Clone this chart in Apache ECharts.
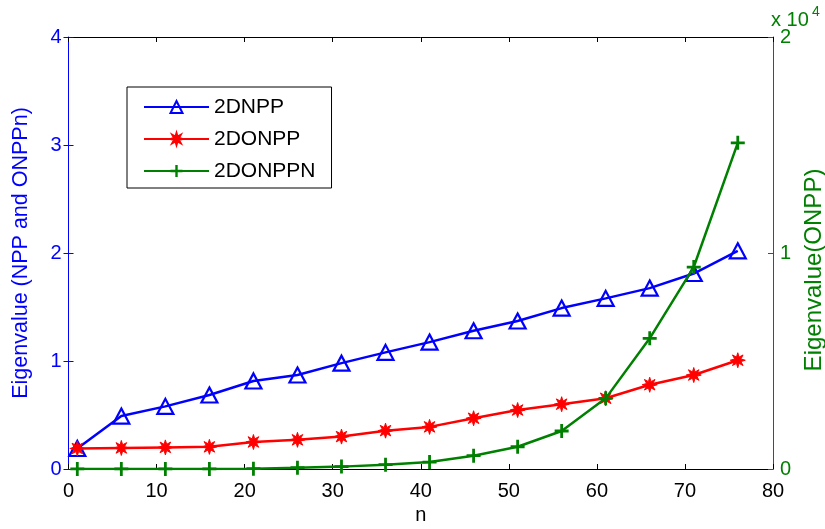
<!DOCTYPE html>
<html><head><meta charset="utf-8">
<script src="https://cdn.jsdelivr.net/npm/echarts@6/dist/echarts.min.js"></script>
<style>html,body{margin:0;padding:0;background:#fff}#c{width:825px;height:529px}</style>
</head><body><div id="c"></div>
<script>
const nValues = [1, 6, 11, 16, 21, 26, 31, 36, 41, 46, 51, 56, 61, 66, 71, 76];
const npp2d = [0.19, 0.49, 0.58, 0.685, 0.815, 0.87, 0.98, 1.08, 1.175, 1.28, 1.37, 1.49, 1.58, 1.675, 1.81, 2.02];
const onpp2d = [0.19, 0.195, 0.2, 0.205, 0.25, 0.27, 0.3, 0.355, 0.39, 0.47, 0.546, 0.6, 0.655, 0.78, 0.87, 1.007];
const onppn2d = [5, 5, 5, 5, 15, 60, 110, 200, 320, 615, 1030, 1760, 3270, 6050, 9350, 15100];
const seriesNames = ['2DNPP', '2DONPP', '2DONPPN'];
const xTickValues = [0, 10, 20, 30, 40, 50, 60, 70, 80];
const leftTicks = [0, 1, 2, 3, 4];
const rightTicks = [0, 1, 2];

function pairs(vals) { return vals.map((v, i) => [nValues[i], v]); }

// asterisk-like star path
function starPath() {
  let d = '';
  for (let k = 0; k < 16; k++) {
    const a = k * Math.PI / 8 - Math.PI / 2;
    const r = k % 2 === 0 ? 10 : 4.5;
    const x = (10 + r * Math.cos(a)).toFixed(2), y = (10 + r * Math.sin(a)).toFixed(2);
    d += (k === 0 ? 'M' : 'L') + x + ',' + y + ' ';
  }
  return 'path://' + d + 'Z';
}
const plusPath = 'path://M4,0 L6,0 L6,4 L10,4 L10,6 L6,6 L6,10 L4,10 L4,6 L0,6 L0,4 L4,4 Z';

const FONT = 'Liberation Sans, Arial, sans-serif';
const BLUE = '#0000ff', RED = '#ff0000', GREEN = '#008000';

const chart = echarts.init(document.getElementById('c'), null, { renderer: 'canvas' });
chart.setOption({
  animation: false,
  backgroundColor: '#ffffff',
  grid: { left: 68.5, right: 52, top: 37, bottom: 60, containLabel: false, outerBoundsMode: 'none' },
  legend: {
    orient: 'vertical', left: 127, top: 87,
    padding: [8, 16, 5, 16],
    itemGap: 8, itemWidth: 65, itemHeight: 15,
    borderColor: '#000', borderWidth: 1, backgroundColor: '#fff', borderRadius: 0,
    textStyle: { fontFamily: FONT, fontSize: 21, color: '#000', lineHeight: 24 },
    data: seriesNames
  },
  xAxis: [{
    type: 'value', position: 'bottom', min: xTickValues[0], max: xTickValues[xTickValues.length - 1], interval: 10,
    axisLine: { onZero: false, lineStyle: { color: '#000', width: 1 } },
    axisTick: { inside: true, length: 5, lineStyle: { color: '#000' } },
    axisLabel: { color: '#000', fontFamily: FONT, fontSize: 20, margin: 12 },
    splitLine: { show: false },
    name: 'n', nameLocation: 'middle', nameGap: 36,
    nameTextStyle: { color: '#000', fontFamily: FONT, fontSize: 20 }
  }, {
    type: 'value', position: 'top', min: 0, max: 80, interval: 10,
    axisLine: { show: true, onZero: false, lineStyle: { color: '#000', width: 1 } },
    axisTick: { show: true, inside: true, length: 5, lineStyle: { color: '#000' } },
    axisLabel: { show: false }, splitLine: { show: false }
  }],
  yAxis: [{
    type: 'value', position: 'left', min: leftTicks[0], max: leftTicks[leftTicks.length - 1], interval: 1,
    axisLine: { show: true, onZero: false, lineStyle: { color: BLUE, width: 1 } },
    axisTick: { show: true, inside: true, length: 5, lineStyle: { color: BLUE } },
    axisLabel: { color: BLUE, fontFamily: FONT, fontSize: 20, margin: 7 },
    splitLine: { show: false },
    name: 'Eigenvalue (NPP and ONPPn)', nameLocation: 'middle', nameGap: 36, nameRotate: 90,
    nameTextStyle: { color: BLUE, fontFamily: FONT, fontSize: 21.5 }
  }, {
    type: 'value', position: 'right', min: 0, max: 20000, interval: 10000,
    axisLine: { show: true, onZero: false, lineStyle: { color: GREEN, width: 1 } },
    axisTick: { show: true, inside: true, length: 5, lineStyle: { color: GREEN } },
    axisLabel: { color: GREEN, fontFamily: FONT, fontSize: 20, margin: 7,
      formatter: v => String(rightTicks[Math.round(v / 10000)]) },
    splitLine: { show: false }
  }, {
    type: 'value', position: 'right', min: 0, max: 4, interval: 1,
    axisLine: { show: false },
    axisTick: { show: true, inside: true, length: 5, lineStyle: { color: BLUE } },
    axisLabel: { show: false }, splitLine: { show: false }
  }],
  graphic: [{
    type: 'text', left: 771, top: 10,
    style: { text: 'x 10', fill: GREEN, font: '20px ' + FONT }
  }, {
    type: 'text', left: 812, top: 5,
    style: { text: '4', fill: GREEN, font: '14px ' + FONT }
  }, {
    type: 'text', x: 814, y: 270, rotation: Math.PI / 2,
    style: { text: 'Eigenvalue(ONPP)', fill: GREEN, font: '24px ' + FONT,
      align: 'center', verticalAlign: 'middle' }
  }],
  series: [{
    name: seriesNames[0], type: 'line', xAxisIndex: 0, yAxisIndex: 0,
    data: pairs(npp2d), symbol: 'triangle', symbolSize: [16, 15],
    lineStyle: { color: BLUE, width: 2.5 },
    itemStyle: { color: 'rgba(255,255,255,0)', borderColor: BLUE, borderWidth: 2.2 },
    emphasis: { disabled: true }, z: 2
  }, {
    name: seriesNames[1], type: 'line', xAxisIndex: 0, yAxisIndex: 0,
    data: pairs(onpp2d), symbol: starPath(), symbolSize: 15,
    lineStyle: { color: RED, width: 2.5 },
    itemStyle: { color: RED, borderColor: RED, borderWidth: 1 },
    emphasis: { disabled: true }, z: 3
  }, {
    name: seriesNames[2], type: 'line', xAxisIndex: 0, yAxisIndex: 1,
    data: pairs(onppn2d), symbol: plusPath, symbolSize: 14,
    lineStyle: { color: GREEN, width: 2.5 },
    itemStyle: { color: GREEN, borderWidth: 0 },
    emphasis: { disabled: true }, z: 4
  }]
});
</script></body></html>
